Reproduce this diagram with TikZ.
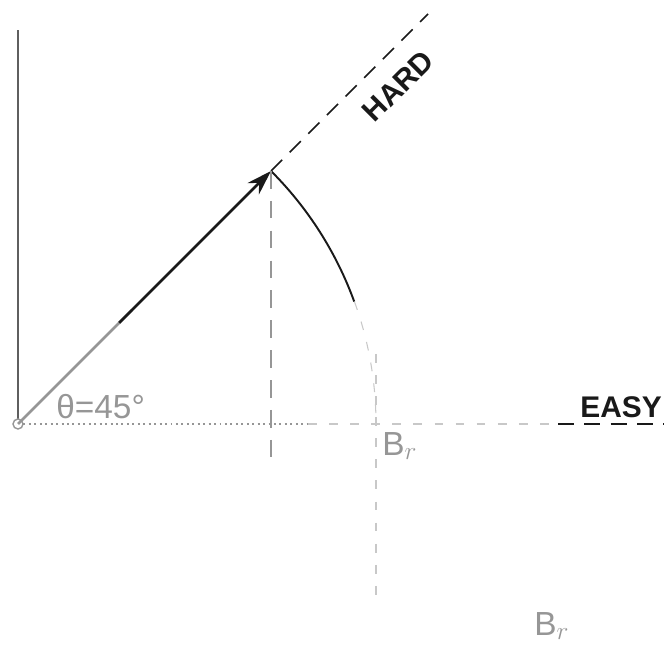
\documentclass[tikz,border=0pt]{standalone}
\usepackage{fontspec}
\setmainfont{Liberation Sans}
\usetikzlibrary{arrows.meta,calc}
\definecolor{inkclr}{RGB}{25,25,25}
\definecolor{axisclr}{RGB}{95,95,95}
\definecolor{fadeclr}{RGB}{150,150,150}
\definecolor{faintclr}{RGB}{200,200,200}
\tikzset{
  %% axes
  axis/.style={line width=1.1pt,color=axisclr},
  %% field vector
  vec/.style={-{Stealth[length=5mm,width=3.2mm]},line width=1.6pt,color=inkclr},
  %% easy / hard directions
  dirln/.style={dash pattern=on 9pt off 6pt,line width=0.9pt,color=inkclr},
  %% projection lines
  proj/.style={dash pattern=on 10pt off 7pt,line width=0.7pt,color=fadeclr},
  fproj/.style={dash pattern=on 5pt off 7pt,line width=0.6pt,color=faintclr},
  %% rotation arc
  swing/.style={line width=1.1pt,color=inkclr},
  %% labels
  dirlbl/.style={font=\fontsize{17}{19}\selectfont\bfseries,text=inkclr,inner sep=0pt},
  glbl/.style={font=\fontsize{19}{21}\selectfont,text=fadeclr,inner sep=0pt},
}

\begin{document}
\begin{tikzpicture}[x=0.02cm,y=0.02cm]
  \useasboundingbox (-18,-231) rectangle (646,424);

  \coordinate (o)     at (0,0);
  \coordinate (ytop)  at (0,394);
  \coordinate (tip)   at (253,253);
  \coordinate (hend)  at (410,410);
  \coordinate (efrom) at (540,0);
  \coordinate (eend)  at (646,0);
  \coordinate (tipft) at (253,-36);
  \coordinate (brtop) at (358,70);
  \coordinate (brft)  at (358,-180);

  %% axes
  \draw[axis] (o) -- (ytop);
  \draw[axis,color=fadeclr,dotted,line width=1.3pt] (o) -- (290,0);
  \draw[fproj] (290,0) -- (efrom);
  \draw[dirln] (efrom) -- (eend);
  \draw[fadeclr,line width=0.8pt,fill=white] (o) circle[radius=5];

  %% hard axis and vector
  \draw[dirln] (tip) -- (hend);
  \draw[vec,fadeclr,-] (o) -- ($(o)!0.45!(tip)$);
  \draw[vec] ($(o)!0.4!(tip)$) -- (tip);

  %% rotation of the magnetisation
  \draw[swing] (tip) arc[start angle=45,end angle=20,radius=358];
  \draw[fproj] ($(o)+(20:358)$) arc[start angle=20,end angle=0,radius=358];

  %% projections
  \draw[proj] (tip) -- (tipft);
  \draw[fproj] (brtop) -- (brft);

  %% labels
  \node[dirlbl,rotate=45] (hard) at (380,338) {HARD};
  \node[dirlbl,anchor=south west] (easy) at (562,6) {EASY};
  \node[glbl,anchor=south west] (theta) at (38,5) {θ=45°};
  \node[glbl,anchor=west] (br1) at (364,-22) {B$_r$};
  \node[glbl,anchor=west] (br2) at (516,-202) {B$_r$};
\end{tikzpicture}
\end{document}
